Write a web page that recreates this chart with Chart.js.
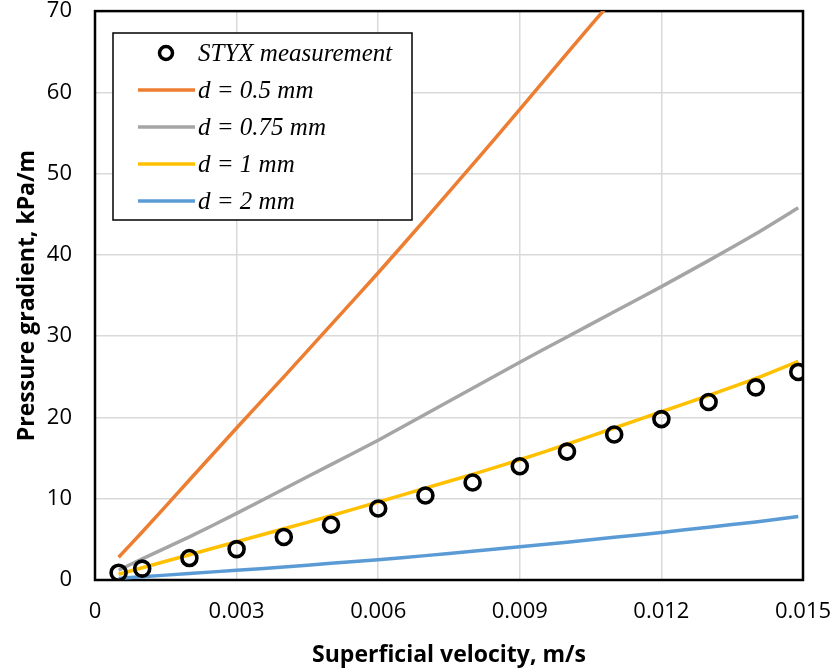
<!DOCTYPE html>
<html>
<head>
<meta charset="utf-8">
<script src="https://cdn.jsdelivr.net/npm/chart.js@4.4.1/dist/chart.umd.min.js"></script>
<style>
  html, body { margin: 0; padding: 0; background: #fff; }
  #wrap { width: 835px; height: 672px; }
</style>
</head>
<body>
<div id="wrap"><canvas id="pressureChart" width="835" height="672"></canvas></div>
<script>
// superficial velocity (m/s) and pressure gradient (kPa/m)
const velocity = [0.0005, 0.001, 0.002, 0.003, 0.004, 0.005, 0.006, 0.007, 0.008, 0.009, 0.010, 0.011, 0.012, 0.013, 0.014, 0.0149];
const styx = [0.9, 1.4, 2.7, 3.8, 5.3, 6.8, 8.8, 10.4, 12.0, 14.0, 15.8, 17.9, 19.8, 21.9, 23.7, 25.6];

const velocityHalf = [0.0005, 0.001, 0.002, 0.003, 0.004, 0.005, 0.006, 0.007, 0.008, 0.009, 0.010, 0.011];
const d05 = [2.8, 5.9, 12.3, 18.7, 25.0, 31.4, 37.8, 44.4, 51.1, 57.9, 64.8, 71.6];
const d075 = [1.2, 2.6, 5.3, 8.2, 11.2, 14.2, 17.2, 20.4, 23.6, 26.8, 29.9, 33.0, 36.1, 39.3, 42.6, 45.8];
const d1 = [0.7, 1.5, 3.1, 4.7, 6.3, 7.9, 9.6, 11.3, 13.0, 14.8, 16.7, 18.7, 20.7, 22.7, 24.8, 26.9];
const d2 = [0.2, 0.4, 0.8, 1.2, 1.6, 2.05, 2.5, 3.0, 3.55, 4.1, 4.65, 5.25, 5.85, 6.5, 7.15, 7.8];

const xTicks = [0, 0.003, 0.006, 0.009, 0.012, 0.015];
const xTickLabels = ["0", "0.003", "0.006", "0.009", "0.012", "0.015"];

function toPoints(xs, ys) {
    return ys.map((y, i) => ({ x: xs[i], y: y }));
}

function lineSet(label, xs, ys, color) {
    return {
        label: label,
        data: toPoints(xs, ys),
        showLine: true,
        borderColor: color,
        backgroundColor: color,
        borderWidth: 3.5,
        pointRadius: 0,
        tension: 0.2
    };
}

// keep the plot box where the picture has it, no extra room for edge labels
function noEdgePadding(scale) {
    scale.paddingTop = 0;
    scale.paddingBottom = 0;
    scale.paddingLeft = 0;
    scale.paddingRight = 0;
}

// legend box inside the plot, Excel style
const legendBox = {
    id: 'legendBox',
    afterDraw(chart) {
        const ctx = chart.ctx;
        const x0 = 113, y0 = 33, w = 299, h = 187;
        ctx.save();
        ctx.fillStyle = '#fff';
        ctx.fillRect(x0, y0, w, h);
        ctx.strokeStyle = '#000';
        ctx.lineWidth = 1.5;
        ctx.strokeRect(x0, y0, w, h);
        ctx.font = 'italic 25px "Liberation Serif", serif';
        ctx.textBaseline = 'middle';
        ctx.fillStyle = '#000';
        chart.data.datasets.forEach((ds, i) => {
            const cy = 53 + i * 37;
            if (ds.showLine) {
                ctx.strokeStyle = ds.borderColor;
                ctx.lineWidth = 3.5;
                ctx.beginPath();
                ctx.moveTo(138, cy);
                ctx.lineTo(195, cy);
                ctx.stroke();
            } else {
                ctx.strokeStyle = '#000';
                ctx.lineWidth = 3.5;
                ctx.beginPath();
                ctx.arc(166, cy, 6.5, 0, Math.PI * 2);
                ctx.stroke();
            }
            ctx.fillText(ds.label, 198, cy + 1);
        });
        ctx.restore();
    }
};

const plotFrame = {
    id: 'plotFrame',
    beforeDatasetsDraw(chart) {
        const a = chart.chartArea;
        const ctx = chart.ctx;
        ctx.save();
        ctx.strokeStyle = '#000';
        ctx.lineWidth = 2.5;
        ctx.strokeRect(a.left, a.top, a.right - a.left, a.bottom - a.top);
        ctx.restore();
    }
};

new Chart(document.getElementById('pressureChart'), {
    type: 'scatter',
    data: {
        datasets: [
            {
                label: 'STYX measurement',
                data: toPoints(velocity, styx),
                pointRadius: 7.5,
                pointBorderWidth: 3.6,
                pointBorderColor: '#000',
                pointBackgroundColor: 'rgba(255,255,255,0)',
                showLine: false
            },
            lineSet('d = 0.5 mm', velocityHalf, d05, '#ed7d31'),
            lineSet('d = 0.75 mm', velocity, d075, '#a5a5a5'),
            lineSet('d = 1 mm', velocity, d1, '#ffc000'),
            lineSet('d = 2 mm', velocity, d2, '#5b9bd5')
        ]
    },
    options: {
        responsive: false,
        animation: false,
        layout: { padding: { top: 10, right: 32, left: 0, bottom: 0 } },
        plugins: {
            legend: { display: false },
            tooltip: { enabled: false }
        },
        scales: {
            x: {
                type: 'linear',
                min: 0,
                max: 0.015,
                afterFit(scale) {
                    scale.height = 92;
                    noEdgePadding(scale);
                },
                afterBuildTicks(scale) { scale.ticks = xTicks.map(v => ({ value: v })); },
                grid: { color: '#d9d9d9', lineWidth: 1.5, drawTicks: false },
                border: { display: false },
                ticks: {
                    color: '#000',
                    padding: 19,
                    font: { family: '"Open Sans", sans-serif', size: 22 },
                    callback: (v) => xTickLabels[xTicks.indexOf(v)]
                },
                title: {
                    display: true,
                    text: 'Superficial velocity, m/s',
                    color: '#000',
                    padding: { top: 0, bottom: 3 },
                    font: { family: '"Open Sans", sans-serif', size: 23, weight: 'bold' }
                }
            },
            y: {
                min: 0,
                max: 70,
                afterFit(scale) {
                    scale.width = 95;
                    noEdgePadding(scale);
                },
                grid: { color: '#d9d9d9', lineWidth: 1.5, drawTicks: false },
                border: { display: false },
                ticks: {
                    stepSize: 10,
                    color: '#000',
                    padding: 23,
                    font: { family: '"Open Sans", sans-serif', size: 22 }
                },
                title: {
                    display: true,
                    text: 'Pressure gradient, kPa/m',
                    color: '#000',
                    padding: { top: 14, bottom: 0 },
                    font: { family: '"Open Sans", sans-serif', size: 23, weight: 'bold' }
                }
            }
        }
    },
    plugins: [plotFrame, legendBox]
});
</script>
</body>
</html>
